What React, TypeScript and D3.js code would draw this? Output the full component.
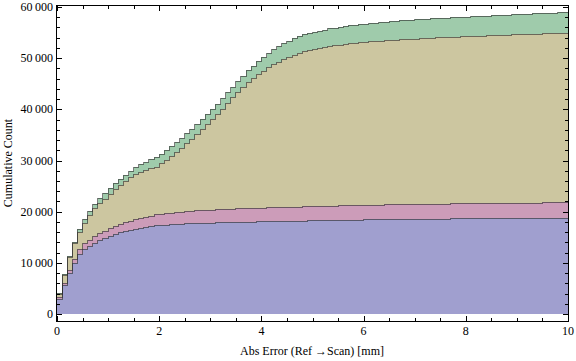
import * as d3 from 'd3'

// cumulative count per dataset, one value per 0.1 mm bin (bins start at 0.0 ... 9.9)
const binStarts = d3.range(100).map((i) => i / 10)

const blueCounts = [
  3000, 5700, 7950, 9900, 11650, 12700, 13350, 13900, 14450, 14900,
  15300, 15650, 15950, 16200, 16450, 16650, 16850, 17000, 17150, 17300,
  17400, 17470, 17530, 17590, 17650, 17700, 17740, 17780, 17820, 17850,
  17880, 17910, 17940, 17960, 17980, 18000, 18020, 18040, 18060, 18080,
  18100, 18120, 18140, 18160, 18180, 18200, 18220, 18240, 18260, 18280,
  18300, 18320, 18340, 18360, 18380, 18400, 18415, 18430, 18445, 18460,
  18475, 18490, 18505, 18520, 18535, 18550, 18560, 18570, 18580, 18590,
  18600, 18610, 18620, 18630, 18640, 18650, 18660, 18670, 18680, 18690,
  18700, 18710, 18715, 18725, 18730, 18740, 18745, 18755, 18760, 18770,
  18780, 18785, 18795, 18800, 18810, 18815, 18825, 18835, 18840, 18850,
]

const pinkCounts = [
  250, 420, 640, 850, 990, 1080, 1170, 1260, 1340, 1410,
  1480, 1560, 1640, 1720, 1800, 1880, 1950, 2020, 2090, 2150,
  2210, 2260, 2300, 2340, 2370, 2400, 2430, 2450, 2480, 2500,
  2520, 2540, 2560, 2580, 2600, 2620, 2635, 2650, 2670, 2685,
  2700, 2710, 2720, 2730, 2740, 2745, 2750, 2760, 2765, 2775,
  2780, 2790, 2795, 2800, 2805, 2810, 2820, 2825, 2835, 2840,
  2850, 2855, 2860, 2865, 2870, 2875, 2880, 2885, 2890, 2895,
  2900, 2905, 2910, 2910, 2915, 2920, 2925, 2930, 2930, 2935,
  2940, 2945, 2945, 2950, 2950, 2955, 2960, 2960, 2965, 2965,
  2970, 2970, 2975, 2975, 2980, 2980, 2985, 2985, 2990, 2990,
]

const tanCounts = [
  650, 1500, 2490, 3060, 3440, 4060, 4760, 5490, 5840, 6220,
  6730, 7220, 7620, 8070, 8460, 8830, 9000, 9180, 9260, 9350,
  9840, 10390, 11070, 11750, 12440, 13250, 14070, 14900, 15820, 16760,
  17700, 18630, 19660, 20700, 21740, 22780, 23745, 24610, 25370, 26085,
  26700, 27370, 27940, 28410, 28880, 29305, 29730, 30050, 30325, 30515,
  30670, 30860, 31065, 31220, 31355, 31460, 31565, 31645, 31720, 31800,
  31865, 31915, 31975, 32025, 32080, 32125, 32175, 32225, 32260, 32300,
  32340, 32375, 32410, 32450, 32485, 32510, 32535, 32570, 32600, 32625,
  32650, 32675, 32700, 32725, 32760, 32775, 32805, 32840, 32860, 32895,
  32910, 32950, 32965, 33005, 33020, 33060, 33075, 33110, 33135, 33170,
]

const greenCounts = [
  140, 190, 250, 300, 520, 720, 800, 930, 980, 1030,
  1050, 1100, 1150, 1200, 1300, 1400, 1500, 1600, 1700, 1800,
  1850, 1880, 1900, 1920, 1940, 1950, 1960, 1970, 1980, 1990,
  2000, 2020, 2040, 2060, 2080, 2100, 2200, 2300, 2400, 2550,
  2700, 2800, 2900, 3000, 3100, 3150, 3200, 3250, 3300, 3330,
  3350, 3380, 3400, 3420, 3440, 3460, 3480, 3500, 3520, 3540,
  3560, 3590, 3620, 3650, 3665, 3680, 3695, 3710, 3720, 3735,
  3750, 3760, 3770, 3780, 3790, 3800, 3810, 3820, 3830, 3840,
  3850, 3860, 3870, 3880, 3890, 3900, 3910, 3915, 3925, 3930,
  3940, 3945, 3955, 3960, 3970, 3975, 3985, 3990, 3995, 4000,
]

const seriesKeys = ['blue', 'pink', 'tan', 'green']
const seriesColors = ['#a09fcf', '#cc9cb9', '#ccc6a0', '#9fcbab']

const xTicks = [0, 2, 4, 6, 8, 10]
const yTicks = [0, 10000, 20000, 30000, 40000, 50000, 60000]

const W = 576
const H = 361

const fmt = (v: number) => {
  const s = String(v)
  return s.length > 4 ? s.slice(0, s.length - 3) + '\u2009' + s.slice(-3) : s
}

export default function App() {
  const x = d3.scaleLinear().domain([0, 10]).range([57, 568])
  const y = d3.scaleLinear().domain([0, 60000]).range([314, 7])
  const frame = { left: 57, right: 568, top: 6, bottom: 321 }

  const rows = binStarts.map((b, i) => ({
    x: b,
    blue: blueCounts[i],
    pink: pinkCounts[i],
    tan: tanCounts[i],
    green: greenCounts[i],
  }))
  // closing edge at the end of the last bin
  rows.push({ ...rows[rows.length - 1], x: 10 })

  const stacked = d3.stack<any>().keys(seriesKeys)(rows)

  const area = d3
    .area<any>()
    .x((d) => x(d.data.x))
    .y0((d) => y(d[0]))
    .y1((d) => y(d[1]))
    .curve(d3.curveStepAfter)

  const line = d3
    .line<any>()
    .x((d) => x(d.data.x))
    .y((d) => Math.round(y(d[1])) + 0.5)
    .curve(d3.curveStepAfter)

  const xMinor = d3.range(0, 10.01, 0.5)
  const yMinor = d3.range(0, 60001, 2000)
  const font = "'Liberation Serif', 'Times New Roman', serif"

  return (
    <svg
      width={W}
      height={H}
      style={{ position: 'absolute', left: 0, top: 0, background: '#fff' }}
      fontFamily={font}
    >
      <g>
        {stacked.map((s, i) => (
          <path key={s.key} d={area(s) || ''} fill={seriesColors[i]} shapeRendering="crispEdges" />
        ))}
        {stacked.map((s) => (
          <path
            key={'l' + s.key}
            d={line(s) || ''}
            fill="none"
            stroke="rgba(45,45,45,0.62)"
            strokeWidth={1}
            shapeRendering="crispEdges"
          />
        ))}
      </g>

      {/* frame */}
      <rect
        x={frame.left - 0.5}
        y={frame.top - 0.5}
        width={frame.right - frame.left + 1}
        height={frame.bottom - frame.top + 1}
        fill="none"
        stroke="#000"
        strokeWidth={1}
        shapeRendering="crispEdges"
      />

      {/* x ticks, bottom and top */}
      {xMinor.map((t) => {
        const major = xTicks.includes(t)
        const len = major ? 5 : 3
        const px = Math.round(x(t)) + 0.5
        return (
          <g key={'xt' + t} stroke="#000" shapeRendering="crispEdges">
            <line x1={px} x2={px} y1={frame.bottom} y2={frame.bottom - len} />
            <line x1={px} x2={px} y1={frame.top} y2={frame.top + len} />
          </g>
        )
      })}
      {xTicks.map((t) => (
        <text key={'xl' + t} x={x(t)} y={335} textAnchor="middle" fontSize={12} fill="#000">
          {t}
        </text>
      ))}

      {/* y ticks, left and right */}
      {yMinor.map((t) => {
        const major = yTicks.includes(t)
        const len = major ? 5 : 3
        const py = Math.round(y(t)) + 0.5
        return (
          <g key={'yt' + t} stroke="#000" shapeRendering="crispEdges">
            <line x1={frame.left} x2={frame.left + len} y1={py} y2={py} />
            <line x1={frame.right} x2={frame.right - len} y1={py} y2={py} />
          </g>
        )
      })}
      {yTicks.map((t) => (
        <text
          key={'yl' + t}
          x={53}
          y={y(t) + 4}
          textAnchor="end"
          fontSize={12}
          fill="#000"
        >
          {fmt(t)}
        </text>
      ))}

      {/* axis labels */}
      <text x={312} y={355} textAnchor="middle" fontSize={12} fill="#000">
        {'Abs Error (Ref \u2192Scan) [mm]'}
      </text>
      <text
        transform={`translate(12, 163) rotate(-90)`}
        textAnchor="middle"
        fontSize={12}
        fill="#000"
      >
        Cumulative Count
      </text>
    </svg>
  )
}
